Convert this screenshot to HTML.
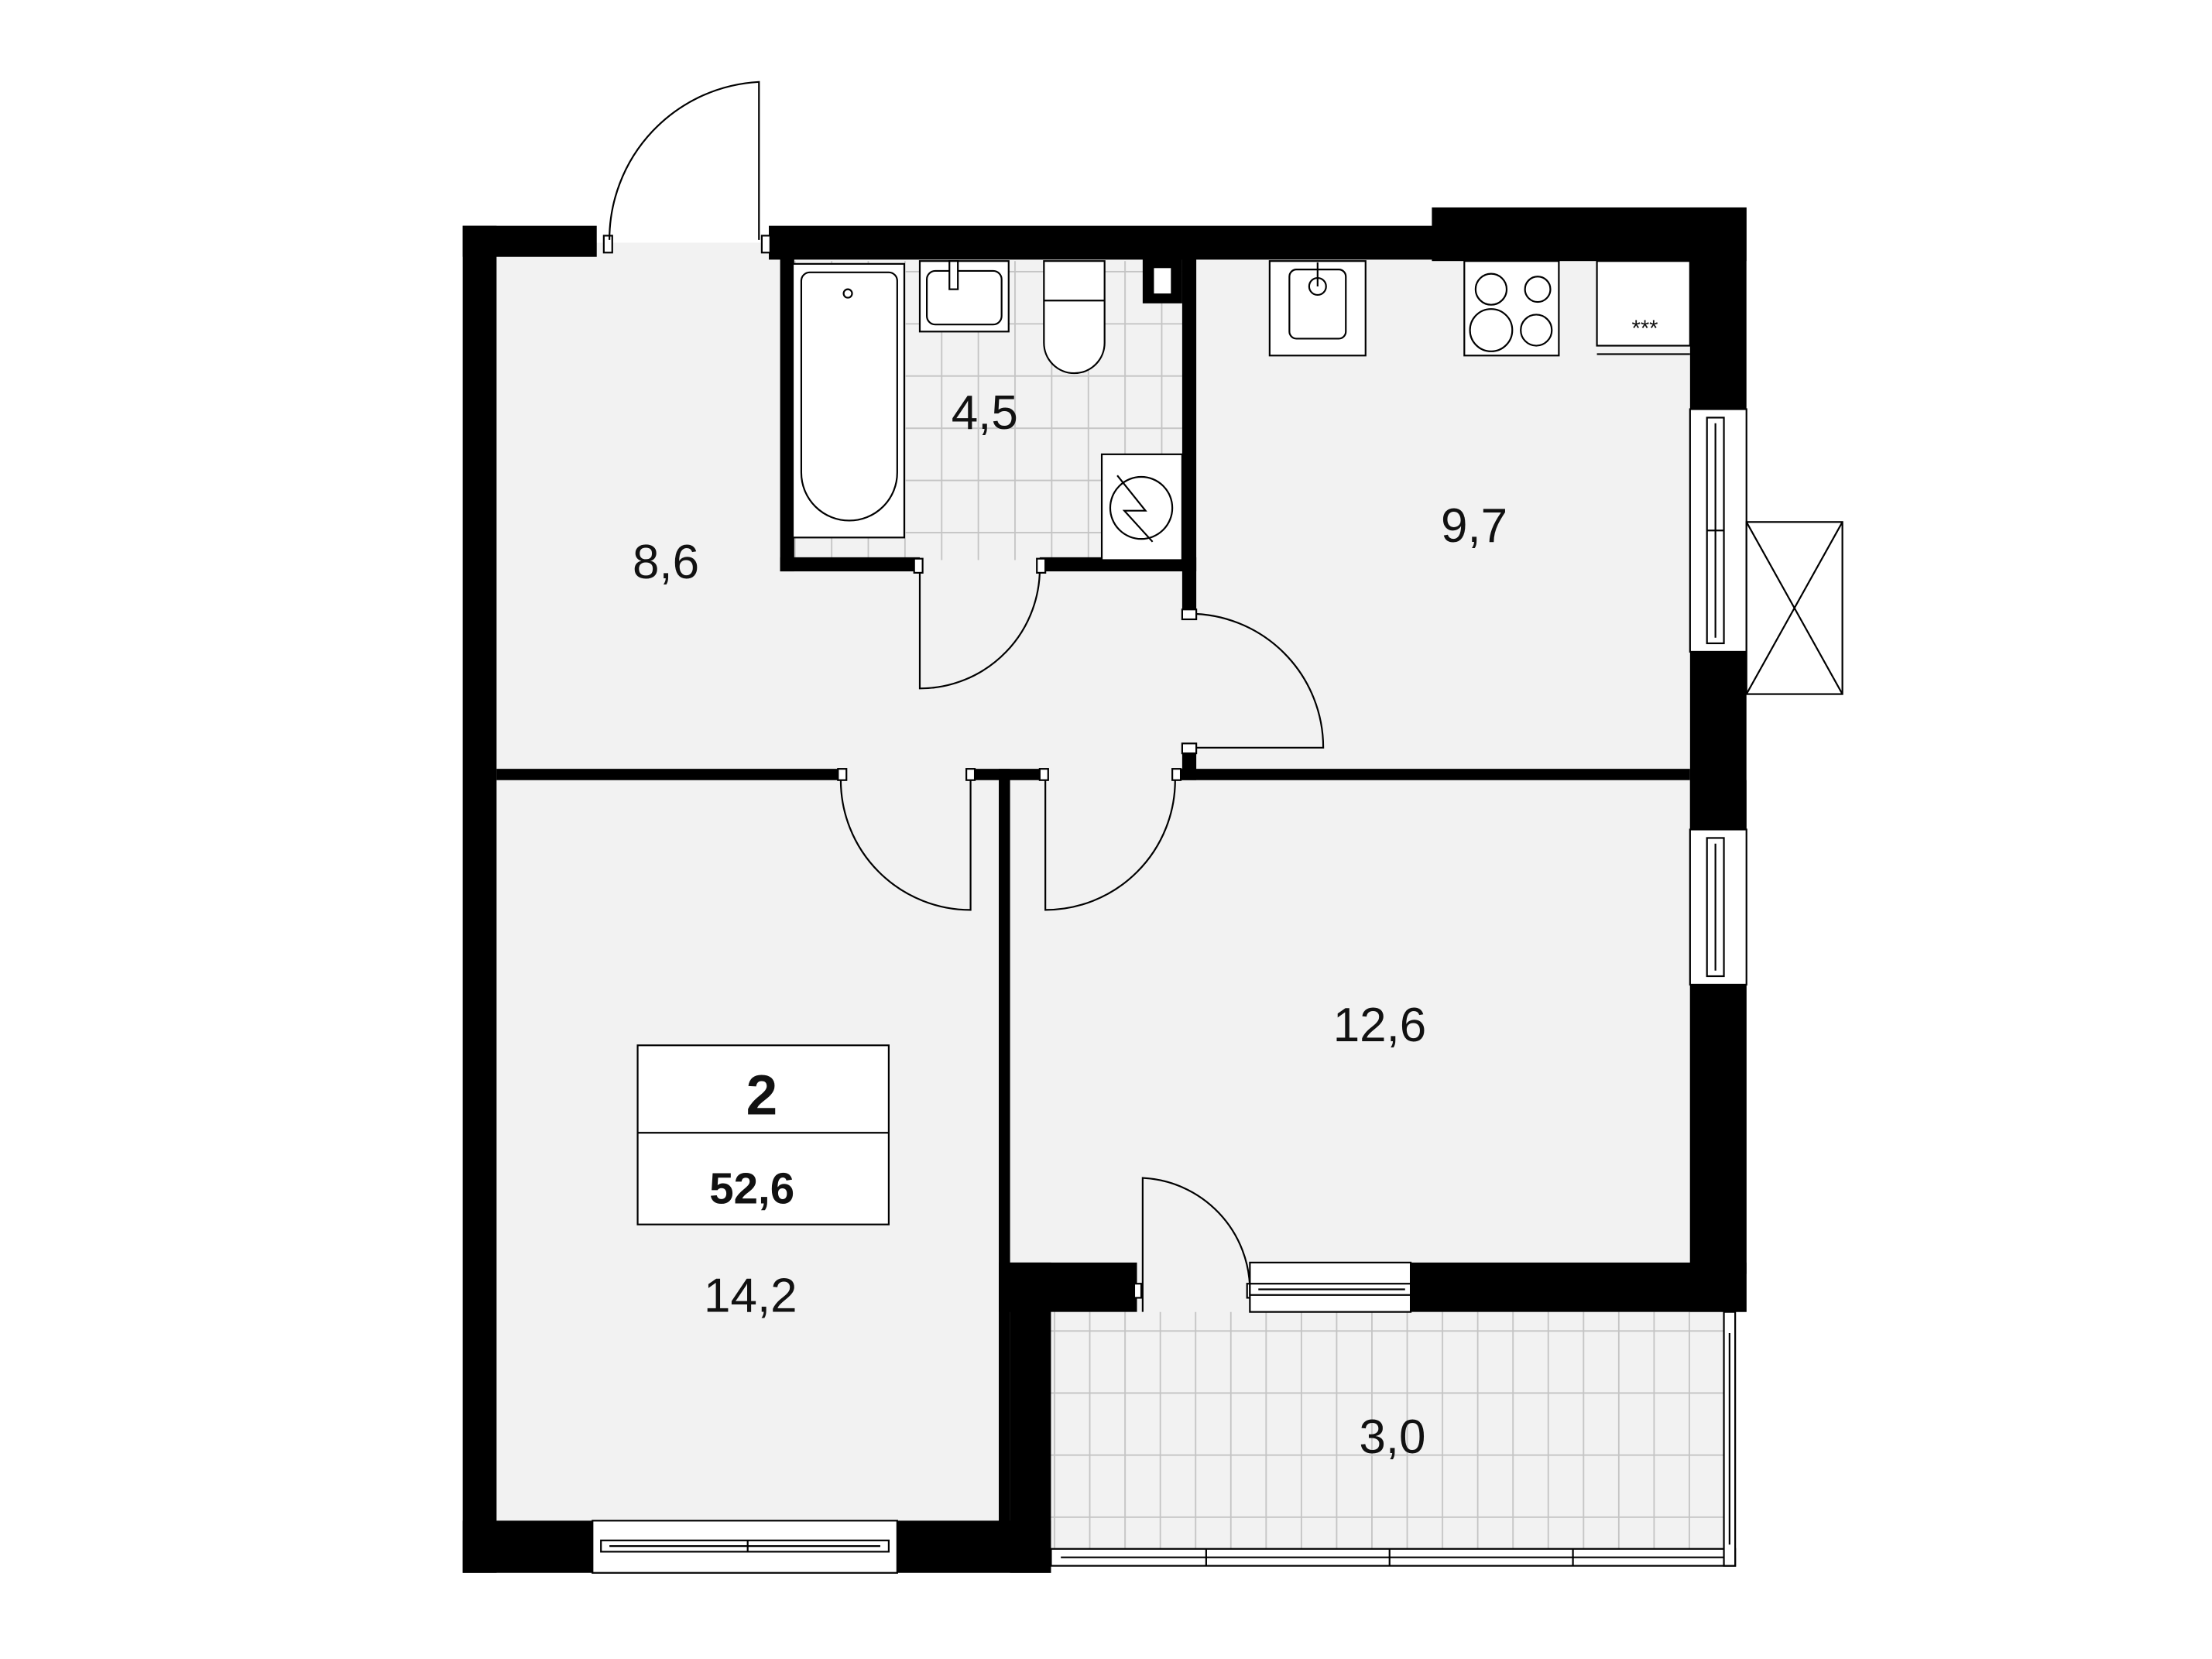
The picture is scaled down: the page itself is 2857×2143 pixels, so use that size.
<!DOCTYPE html>
<html><head><meta charset="utf-8"><style>
html,body{margin:0;padding:0;background:#fff;}
svg{display:block;}
text{font-family:"Liberation Sans",sans-serif;fill:#111;}
</style></head><body>
<svg width="2857" height="2143" viewBox="0 0 1568 1176" xmlns="http://www.w3.org/2000/svg">
<defs>
<pattern id="tb" x="563" y="192" width="26" height="37" patternUnits="userSpaceOnUse">
<rect width="26" height="37" fill="#f2f2f2"/><path d="M0 0H26M0 0V37" stroke="#c4c4c4" stroke-width="2"/></pattern>
<pattern id="tp" x="747" y="943" width="25" height="44" patternUnits="userSpaceOnUse">
<rect width="25" height="44" fill="#f2f2f2"/><path d="M0 0H25M0 0V44" stroke="#c4c4c4" stroke-width="2"/></pattern>
</defs>
<rect width="1568" height="1176" fill="#fff"/>
<rect x="352" y="172" width="846" height="906" fill="#f2f2f2"/>
<rect x="716" y="552" width="482" height="343" fill="#f2f2f2"/>
<rect x="563" y="185" width="275" height="212" fill="url(#tb)"/>
<rect x="745" y="930" width="478" height="168" fill="url(#tp)"/>
<rect x="1198" y="553" width="40" height="350" fill="#000"/>
<g fill="#000">
<rect x="328" y="160" width="24" height="955"/>
<rect x="328" y="160" width="95" height="22"/>
<rect x="545" y="160" width="475" height="24"/>
<rect x="1015" y="147" width="223" height="38"/>
<rect x="1198" y="147" width="40" height="143"/>
<rect x="1198" y="462" width="40" height="126"/>
<rect x="1198" y="698" width="40" height="232"/>
<rect x="553" y="183" width="10" height="222"/>
<rect x="553" y="395" width="99" height="10"/>
<rect x="737" y="395" width="111" height="10"/>
<rect x="838" y="183" width="10" height="254"/>
<rect x="810" y="183" width="28" height="32"/>
<rect x="352" y="545" width="244" height="8"/>
<rect x="688" y="545" width="50" height="8"/>
<rect x="836" y="545" width="362" height="8"/>
<rect x="838" y="530" width="10" height="23"/>
<rect x="708" y="545" width="8" height="540"/>
<rect x="708" y="895" width="98" height="35"/>
<rect x="1000" y="895" width="238" height="35"/>
<rect x="716" y="895" width="29" height="220"/>
<rect x="328" y="1078" width="95" height="37"/>
<rect x="636" y="1078" width="109" height="37"/>
</g>
<rect x="818" y="190" width="12" height="18" fill="#fff"/>
<g fill="none" stroke="#000" stroke-width="1.2">
<rect x="428" y="167" width="6" height="12" fill="#fff"/><rect x="540" y="167" width="6" height="12" fill="#fff"/>
<path d="M538 170V58A112 112 0 0 0 432 170"/>
<path d="M652 400V488A85 85 0 0 0 737 400"/>
<rect x="648" y="396" width="6" height="10" fill="#fff"/><rect x="735" y="396" width="6" height="10" fill="#fff"/>
<path d="M843 530H938A95 95 0 0 0 843 435"/>
<rect x="838" y="432" width="10" height="7" fill="#fff"/><rect x="838" y="527" width="10" height="7" fill="#fff"/>
<path d="M688 553V645A92 92 0 0 1 596 553"/>
<path d="M741 553V645A92 92 0 0 0 833 553"/>
<rect x="594" y="545" width="6" height="8" fill="#fff"/><rect x="685" y="545" width="6" height="8" fill="#fff"/>
<rect x="737" y="545" width="6" height="8" fill="#fff"/><rect x="831" y="545" width="6" height="8" fill="#fff"/>
<rect x="806" y="895" width="80" height="35" fill="#f2f2f2" stroke="none"/>
<path d="M810 930V835A80 80 0 0 1 886 915"/>
<rect x="804" y="910" width="5" height="10" fill="#fff"/><rect x="884" y="910" width="5" height="10" fill="#fff"/>
<rect x="886" y="895" width="114" height="35" fill="#fff"/>
<rect x="886" y="910" width="114" height="8" fill="#fff"/><line x1="892" y1="914" x2="996" y2="914"/>
<rect x="1198" y="290" width="40" height="172" fill="#fff"/>
<rect x="1210" y="296" width="12" height="160" fill="#fff"/><line x1="1216" y1="300" x2="1216" y2="452"/><line x1="1210" y1="376" x2="1222" y2="376"/>
<rect x="1198" y="588" width="40" height="110" fill="#fff"/>
<rect x="1210" y="594" width="12" height="98" fill="#fff"/><line x1="1216" y1="598" x2="1216" y2="688"/>
<rect x="1238" y="370" width="68" height="122" fill="#fff"/><path d="M1238 370L1306 492M1306 370L1238 492"/>
<rect x="420" y="1078" width="216" height="37" fill="#fff"/>
<rect x="426" y="1092" width="204" height="8" fill="#fff"/><line x1="530" y1="1092" x2="530" y2="1100"/><line x1="432" y1="1096" x2="624" y2="1096"/>
<rect x="745" y="1098" width="485" height="12" fill="#fff"/><line x1="752" y1="1104" x2="1222" y2="1104"/>
<line x1="855" y1="1098" x2="855" y2="1110"/><line x1="985" y1="1098" x2="985" y2="1110"/><line x1="1115" y1="1098" x2="1115" y2="1110"/>
<rect x="1222" y="930" width="8" height="180" fill="#fff"/><line x1="1226" y1="945" x2="1226" y2="1095"/>
<rect x="562" y="187" width="79" height="194" fill="#fff"/>
<path d="M574 193H630A6 6 0 0 1 636 199V335A34 34 0 0 1 568 335V199A6 6 0 0 1 574 193Z" fill="#fff"/>
<circle cx="601" cy="208" r="3"/>
<rect x="652" y="185" width="63" height="50" fill="#fff"/><rect x="657" y="192" width="53" height="38" rx="6" fill="#fff"/>
<rect x="673" y="185" width="6" height="20" fill="#fff"/>
<path d="M740 185H783V243A21.5 21.5 0 0 1 740 243Z" fill="#fff"/>
<line x1="740" y1="213" x2="783" y2="213"/>
<rect x="781" y="322" width="57" height="75" fill="#fff"/><circle cx="809" cy="360" r="22"/><path d="M792 337L812 362H797L817 384"/>
<rect x="900" y="185" width="68" height="67" fill="#fff"/><rect x="914" y="191" width="40" height="49" rx="5" fill="#fff"/><circle cx="934" cy="203" r="6"/><line x1="934" y1="186" x2="934" y2="203"/>
<rect x="1038" y="185" width="67" height="67" fill="#fff"/><circle cx="1057" cy="205" r="11"/><circle cx="1090" cy="205" r="9"/><circle cx="1057" cy="234" r="15"/><circle cx="1089" cy="234" r="11"/>
<rect x="1132" y="185" width="66" height="60" fill="#fff"/><line x1="1132" y1="251" x2="1198" y2="251"/>
<rect x="452" y="741" width="178" height="127" fill="#fff"/><line x1="452" y1="803" x2="630" y2="803"/>
</g>
<text x="1166" y="238" font-size="16" text-anchor="middle" fill="#555">***</text>
<g font-size="34" text-anchor="middle">
<text x="472" y="410">8,6</text>
<text x="698" y="304">4,5</text>
<text x="1045" y="384">9,7</text>
<text x="978" y="738">12,6</text>
<text x="532" y="930">14,2</text>
<text x="987" y="1030">3,0</text>
</g>
<text x="540" y="790" font-size="40" font-weight="bold" text-anchor="middle">2</text>
<text x="533" y="853" font-size="31" font-weight="bold" text-anchor="middle">52,6</text>
</svg>
</body></html>
